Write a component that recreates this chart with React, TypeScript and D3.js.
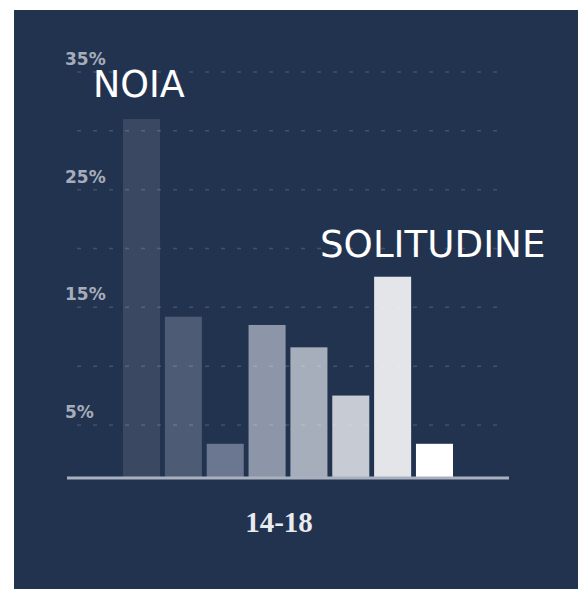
import React from "react";
import * as d3 from "d3";

const categories = ["noia", "c2", "c3", "c4", "c5", "c6", "solitudine", "c8"];
const values = [31, 14.2, 3.4, 13.5, 11.6, 7.5, 17.6, 3.4];
const barColors = ["#3a4862", "#4d5b75", "#6b7790", "#8d96a8", "#a6adbb", "#c7cbd3", "#e3e5e9", "#ffffff"];
const gridTicks = [5, 10, 15, 20, 25, 30, 35];
const labelTicks = [5, 15, 25, 35];
const groupLabel = "14-18";

const W = 578;
const H = 589;

export default function App() {
  const x = d3.scaleBand<string>().domain(categories).range([123, 453]).paddingInner(0.115).paddingOuter(0);
  const y = d3.scaleLinear().domain([0, 35]).range([483.8, 72]);
  const baseY = 477;

  return (
    <div style={{ position: "absolute", left: 0, top: 0 }}>
      <svg width={W} height={H} style={{ display: "block" }}>
        <rect x={0} y={0} width={W} height={H} fill="#ffffff" />
        <rect x={14} y={10} width={W - 14} height={H - 10} fill="#223350" />
        {categories.map((c, i) => (
          <rect
            key={c}
            x={x(c)}
            y={y(values[i])}
            width={x.bandwidth()}
            height={baseY - y(values[i])}
            fill={barColors[i]}
          />
        ))}
        {gridTicks.map((t) => (
          <line
            key={t}
            x1={77}
            x2={508}
            y1={y(t)}
            y2={y(t)}
            stroke="#ffffff"
            strokeOpacity={0.15}
            strokeWidth={1.5}
            strokeDasharray="4 12"
          />
        ))}
        {labelTicks.map((t) => (
          <text
            key={t}
            x={65}
            y={y(t) - 7}
            fill="#a6adba"
            fontFamily="DejaVu Sans, Verdana, sans-serif"
            fontWeight="bold"
            fontSize={17}
          >
            {t}%
          </text>
        ))}
        <line x1={67} x2={509} y1={478} y2={478} stroke="#aab1be" strokeWidth={3} />
        <text
          x={279}
          y={532}
          textAnchor="middle"
          fill="#e9ebef"
          fontFamily="Liberation Serif, serif"
          fontWeight="bold"
          fontSize={29}
        >
          {groupLabel}
        </text>
        <text x={93} y={97} fill="#ffffff" fontFamily="DejaVu Sans, Verdana, sans-serif" fontSize={36.5}>
          NOIA
        </text>
        <text x={320} y={257} fill="#ffffff" fontFamily="DejaVu Sans, Verdana, sans-serif" fontSize={37.2}>
          SOLITUDINE
        </text>
      </svg>
    </div>
  );
}
